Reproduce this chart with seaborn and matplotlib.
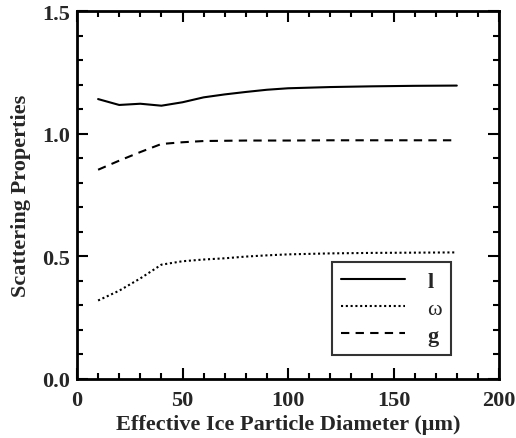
import numpy as np
import pandas as pd
import matplotlib
matplotlib.use("Agg")
import matplotlib.pyplot as plt
import seaborn as sns
from matplotlib.ticker import MultipleLocator

diameter = [10, 20, 30, 40, 50, 60, 70, 80, 90, 100, 120, 140, 160, 180]
ext_l = [1.141, 1.117, 1.122, 1.114, 1.128, 1.148, 1.160, 1.170, 1.179, 1.185, 1.190, 1.193, 1.195, 1.196]
omega = [0.320, 0.360, 0.410, 0.466, 0.480, 0.487, 0.492, 0.499, 0.504, 0.508, 0.512, 0.514, 0.515, 0.516]
asym_g = [0.853, 0.890, 0.925, 0.958, 0.965, 0.970, 0.971, 0.972, 0.972, 0.972, 0.973, 0.973, 0.973, 0.973]
labels = ["l", "\u03c9", "g"]

sns.set_theme(style="ticks")
plt.rcParams["font.family"] = ["Liberation Serif", "DejaVu Serif"]

fig = plt.figure(figsize=(5.16, 4.39), dpi=100)
ax = fig.add_axes([77/516, 1 - 380/439, (499-77)/516, (380-12)/439])

df = pd.DataFrame({"x": diameter, "l": ext_l, "w": omega, "g": asym_g})
sns.lineplot(data=df, x="x", y="l", ax=ax, color="black", lw=1.5, linestyle="-", label=labels[0])
sns.lineplot(data=df, x="x", y="w", ax=ax, color="black", lw=1.5, linestyle=(0, (1, 1.3)), label=labels[1])
sns.lineplot(data=df, x="x", y="g", ax=ax, color="black", lw=1.5, linestyle=(0, (4, 3)), label=labels[2])

ax.set_xlim(0, 200)
ax.set_ylim(0, 1.5)
ax.xaxis.set_major_locator(MultipleLocator(50))
ax.xaxis.set_minor_locator(MultipleLocator(10))
ax.yaxis.set_major_locator(MultipleLocator(0.5))
ax.yaxis.set_minor_locator(MultipleLocator(0.1))
ax.yaxis.set_major_formatter(matplotlib.ticker.FormatStrFormatter("%.1f"))
ax.tick_params(which="both", direction="in", top=True, right=True, color="black", width=1.5)
ax.tick_params(which="major", length=8, labelsize=16)
ax.tick_params(axis="x", which="major", pad=8)
ax.tick_params(axis="y", which="major", pad=5)
ax.tick_params(which="minor", length=4)
for lab in ax.get_xticklabels() + ax.get_yticklabels():
    lab.set_fontweight("bold")
for s in ax.spines.values():
    s.set_linewidth(2)
    s.set_color("black")

ax.set_xlabel("Effective Ice Particle Diameter (\u03bcm)", fontsize=16, fontweight="bold", labelpad=3)
ax.set_ylabel("Scattering Properties", fontsize=16, fontweight="bold", labelpad=8)

leg = ax.legend(loc="lower right", bbox_to_anchor=(451/516, 1 - 356/439), bbox_transform=fig.transFigure,
                frameon=True, fancybox=False, handlelength=2.9, handletextpad=1.0,
                borderpad=0.4, labelspacing=0.3, borderaxespad=0,
                prop={"size": 16, "weight": "bold"})
leg.get_frame().set_edgecolor("black")
leg.get_frame().set_linewidth(1.5)
leg.get_texts()[1].set_fontweight("normal")

fig.savefig("out.png", dpi=100, facecolor="white")
